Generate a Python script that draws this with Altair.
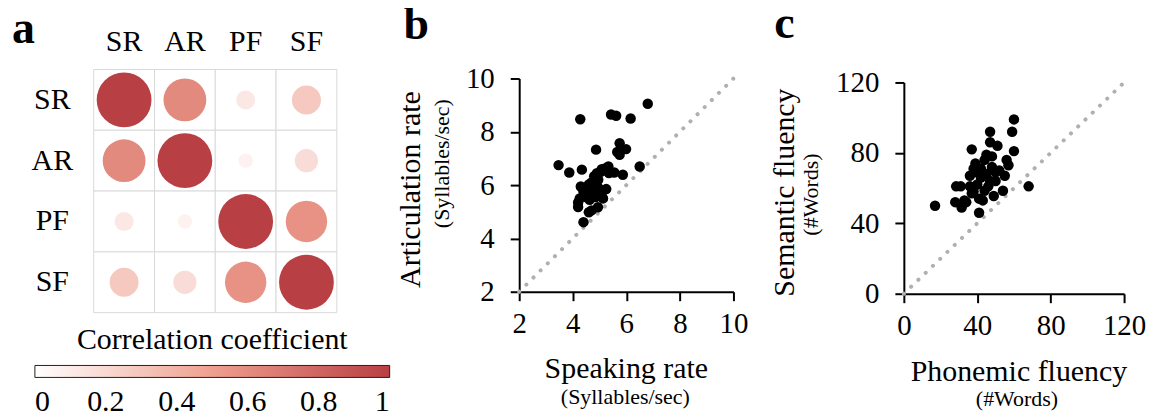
import altair as alt
import pandas as pd

FONT = "Liberation Serif"

# ---------------- panel a : correlation matrix ----------------
measures = ["SR", "AR", "PF", "SF"]
corr_values = [
    [1.00, 0.61, 0.12, 0.28],
    [0.61, 1.00, 0.07, 0.18],
    [0.12, 0.07, 1.00, 0.57],
    [0.28, 0.18, 0.57, 1.00],
]
legend_values = [0, 0.2, 0.4, 0.6, 0.8, 1]

# ---------------- panel b : speaking vs articulation rate ----------------
speaking_rate = [6.80, 5.43, 5.62, 6.16, 4.28, 5.75, 4.87, 5.66, 5.75, 5.99,
                 3.47, 3.87, 4.34, 6.50, 5.87, 5.33, 5.08, 5.55, 4.90, 4.80,
                 5.05, 5.20, 4.70, 4.95, 4.60, 4.50, 4.40, 4.75, 4.95, 5.25,
                 5.10, 4.26, 4.63, 5.13, 4.20, 4.50, 4.20, 4.70, 4.60, 4.94,
                 4.40, 4.85, 5.35, 4.30]
articulation_rate = [9.05, 8.65, 8.60, 8.50, 8.47, 7.57, 7.33, 7.24, 7.14, 7.35,
                     6.75, 6.47, 6.58, 6.70, 6.39, 6.70, 6.60, 6.47, 6.45, 6.33,
                     6.50, 6.62, 6.10, 6.20, 6.02, 5.90, 5.75, 5.80, 5.90, 5.85,
                     5.75, 5.50, 5.45, 5.50, 5.35, 5.55, 5.18, 5.05, 4.98, 5.17,
                     4.61, 5.55, 6.45, 5.95]
rate_ticks = [2, 4, 6, 8, 10]
rate_diag = [2, 10]

# ---------------- panel c : phonemic vs semantic fluency ----------------
phonemic_fluency = [17, 60, 59, 47, 47, 51, 37, 60, 45, 44,
                    56, 57, 39, 38, 42, 48, 50, 36, 45, 55,
                    50, 68, 28.5, 31, 40, 44, 54, 37, 28, 34,
                    41, 49, 31.5, 41, 36, 43, 46, 42, 48, 33,
                    38, 47, 52, 40]
semantic_fluency = [50, 99, 92, 92, 86, 84, 82, 81, 79, 76,
                    76, 73, 74, 71, 71, 72, 69, 67, 68, 67,
                    64, 61, 61, 61, 62, 58.5, 58.5, 57, 52, 52,
                    54, 55.5, 49, 46, 61, 53, 61, 66, 78, 53,
                    58, 64, 70, 69]
fluency_ticks = [0, 40, 80, 120]
fluency_diag = [0, 120]

# ---------------- tables ----------------
corr_df = pd.DataFrame(
    [{"row": measures[i], "col": measures[j], "r": corr_values[i][j]}
     for i in range(4) for j in range(4)]
)
b_df = pd.DataFrame({"x": speaking_rate, "y": articulation_rate})
b_diag_df = pd.DataFrame({"x": rate_diag, "y": rate_diag})
c_df = pd.DataFrame({"x": phonemic_fluency, "y": semantic_fluency})
c_diag_df = pd.DataFrame({"x": fluency_diag, "y": fluency_diag})


def letter(txt, dx, dy):
    return alt.Title(txt, anchor="start", frame="group", fontSize=46,
                     fontWeight="bold", font=FONT, color="black", dx=dx, dy=dy)


# ---------------- panel a ----------------
band = alt.Scale(paddingInner=0, paddingOuter=0)
xa = alt.X("col:N", sort=measures, scale=band,
           axis=alt.Axis(orient="top", title=None, labelAngle=0, labelFontSize=30,
                         ticks=False, tickSize=0, domain=False, labelPadding=28,
                         labelBaseline="middle", labelAlign="center"))
ya = alt.Y("row:N", sort=measures, scale=band,
           axis=alt.Axis(title=None, labelFontSize=30, ticks=False, tickSize=0,
                         domain=False, labelPadding=42, labelAlign="center",
                         labelBaseline="middle"))

cells = alt.Chart(corr_df).mark_rect(fill="white", stroke="#d9d9d9", strokeWidth=1).encode(x=xa, y=ya)
circles = alt.Chart(corr_df).mark_circle(opacity=1).encode(
    x=xa, y=ya,
    size=alt.Size("r:Q", scale=alt.Scale(domain=[0, 1], range=[0, 3025]), legend=None),
    color=alt.Color(
        "r:Q",
        scale=alt.Scale(domain=[0, 0.5, 1], range=["#ffffff", "#ef9f8f", "#b83f43"],
                        interpolate="rgb"),
        legend=alt.Legend(
            orient="none", legendX=-59, legendY=256, direction="horizontal",
            gradientLength=356, gradientThickness=12,
            gradientStrokeColor="#222222", gradientStrokeWidth=1,
            title="Correlation coefficient", titleFontSize=30, titleFontWeight="normal",
            titleAnchor="middle", titleAlign="center", titlePadding=11, titleColor="black",
            titleLimit=600, labelLimit=200,
            labelFontSize=30, labelOffset=10, labelColor="black", labelAlign="center",
            labelOverlap=False, values=legend_values, format="~g", padding=0,
        ),
    ),
)
panel_a = alt.layer(cells, circles).properties(width=244, height=244, title=letter("a", -82, 30))

# ---------------- scatter panel helper ----------------
main_axis = dict(grid=False, labelFontSize=29, labelFlush=False, labelOverlap=False,
                 tickSize=9, tickWidth=2, domainWidth=2, titleFontSize=30,
                 titleAlign="center", titleBaseline="middle")
sub_axis = dict(grid=False, labels=False, ticks=False, domain=False, titleFontSize=22,
                titleAlign="center", titleBaseline="middle")


def scatter(df, diag_df, dom, ticks, width, height, ytop, xt, yt, xsub, ysub, t):
    xs = alt.Scale(domain=dom, nice=False, zero=False)
    ys = alt.Scale(domain=dom, nice=False, zero=False, range=[height, ytop])
    line = alt.Chart(diag_df).mark_line(
        color="#b0b0b0", strokeWidth=4, strokeDash=[0.1, 10], strokeCap="round"
    ).encode(
        x=alt.X("x:Q", scale=xs, axis=alt.Axis(orient="bottom", title=xsub[0],
                titleX=xsub[1], titleY=xsub[2], **sub_axis)),
        y=alt.Y("y:Q", scale=ys, axis=alt.Axis(orient="left", title=ysub[0],
                titleX=ysub[1], titleY=ysub[2], titleAngle=-90, **sub_axis)),
    )
    pts = alt.Chart(df).mark_circle(color="black", opacity=1, size=110).encode(
        x=alt.X("x:Q", scale=xs, axis=alt.Axis(orient="bottom", values=ticks, labelPadding=9,
                title=xt[0], titleX=xt[1], titleY=xt[2], **main_axis)),
        y=alt.Y("y:Q", scale=ys, axis=alt.Axis(orient="left", values=ticks, labelPadding=16,
                title=yt[0], titleX=yt[1], titleY=yt[2], titleAngle=-90, **main_axis)),
    )
    return alt.layer(line, pts).resolve_axis(x="independent", y="independent").properties(
        width=width, height=height, title=t)


panel_b = scatter(b_df, b_diag_df, [2, 10], rate_ticks, 215, 223, 9,
                  ("Speaking rate", 107, 77), ("Articulation rate", -109, 120),
                  ("(Syllables/sec)", 106, 105), ("(Syllables/sec)", -78, 94),
                  letter("b", -116, -12))
panel_c = scatter(c_df, c_diag_df, [0, 120], fluency_ticks, 221, 225, 13,
                  ("Phonemic fluency", 115, 78), ("Semantic fluency", -120, 123),
                  ("(#Words)", 113, 105), ("(#Words)", -94, 125),
                  letter("c", -130, -17))

right = alt.hconcat(panel_b, panel_c, spacing=171, bounds="flush")
chart = alt.hconcat(panel_a, right, spacing=183, bounds="flush").resolve_scale(
    color="independent"
).properties(
    padding={"left": 4, "top": -8, "right": 0, "bottom": 0}
).configure(font=FONT).configure_view(stroke=None).configure_axis(
    labelColor="black", titleColor="black", domainColor="black", tickColor="black",
    titleFontWeight="normal", labelFont=FONT, titleFont=FONT
)

chart.save("out.html", embed_options={"renderer": "svg", "actions": False})
